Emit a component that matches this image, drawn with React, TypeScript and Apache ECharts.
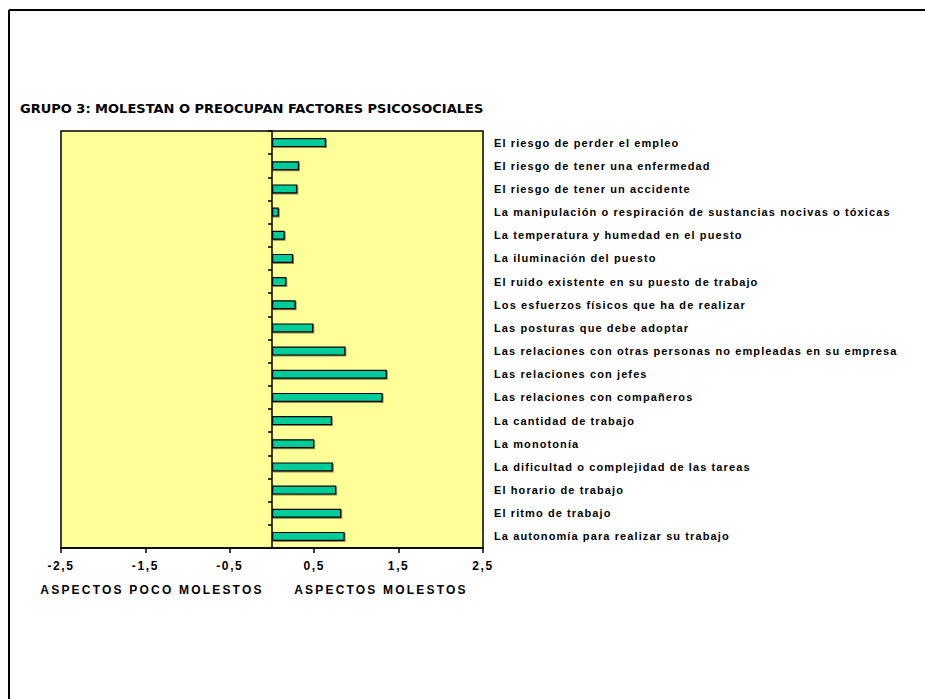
import React, { useEffect, useRef } from "react";
import * as echarts from "echarts";

const categories = [
  "El riesgo de perder el empleo",
  "El riesgo de tener una enfermedad",
  "El riesgo de tener un accidente",
  "La manipulación o respiración de sustancias nocivas o tóxicas",
  "La temperatura y humedad en el puesto",
  "La iluminación del puesto",
  "El ruido existente en su puesto de trabajo",
  "Los esfuerzos físicos que ha de realizar",
  "Las posturas que debe adoptar",
  "Las relaciones con otras personas no empleadas en su empresa",
  "Las relaciones con jefes",
  "Las relaciones con compañeros",
  "La cantidad de trabajo",
  "La monotonía",
  "La dificultad o complejidad de las tareas",
  "El horario de trabajo",
  "El ritmo de trabajo",
  "La autonomía para realizar su trabajo",
];

const values = [
  0.64, 0.32, 0.3, 0.08, 0.15, 0.25, 0.17, 0.28, 0.49,
  0.87, 1.36, 1.31, 0.71, 0.5, 0.72, 0.76, 0.82, 0.86,
];

const tickValues = [-2.5, -1.5, -0.5, 0.5, 1.5, 2.5];

const title = "GRUPO 3: MOLESTAN O PREOCUPAN FACTORES PSICOSOCIALES";
const leftAxisTitle = "ASPECTOS POCO MOLESTOS";
const rightAxisTitle = "ASPECTOS MOLESTOS";

const formatTick = (v: number) => String(v).replace(".", ",");

export default function App() {
  const ref = useRef<HTMLDivElement>(null);
  useEffect(() => {
    if (!ref.current) return;
    const chart = echarts.init(ref.current, null, { renderer: "svg" });
    const font = "'Liberation Sans', Arial, sans-serif";
    chart.setOption({
      animation: false,
      backgroundColor: "#ffffff",
      grid: {
        left: 61,
        top: 131,
        width: 422,
        height: 417,
        show: true,
        backgroundColor: "#FFFF99",
        borderColor: "#000000",
        borderWidth: 1.5,
        containLabel: false,
      },
      xAxis: {
        type: "value",
        min: -2.5,
        max: 2.5,
        interval: 0.5,
        splitLine: { show: false },
        axisLine: { show: true, onZero: false, lineStyle: { color: "#000", width: 1.5 } },
        axisTick: {
          show: true,
          length: 5,
          customValues: tickValues,
          lineStyle: { color: "#000", width: 1.5 },
        },
        axisLabel: {
          customValues: tickValues,
          formatter: formatTick,
          fontFamily: font,
          fontWeight: "bold",
          fontSize: 12,
          color: "#000",
          margin: 12,
        },
      },
      yAxis: [
        {
          type: "category",
          data: categories,
          inverse: true,
          axisLine: { show: true, onZero: true, lineStyle: { color: "#000", width: 1.5 } },
          axisTick: { show: true, length: 4, lineStyle: { color: "#000", width: 1.5 } },
          axisLabel: { show: false },
          splitLine: { show: false },
        },
        {
          type: "category",
          data: categories,
          inverse: true,
          position: "right",
          axisLine: { show: false, onZero: false },
          axisTick: { show: false },
          axisLabel: {
            show: true,
            margin: 11,
            fontFamily: font,
            fontWeight: "bold",
            fontSize: 11,
            color: "#000",
            interval: 0,
          },
          splitLine: { show: false },
        },
      ],
      series: [
        {
          type: "bar",
          data: values,
          yAxisIndex: 0,
          barWidth: 9,
          itemStyle: {
            color: "#00CC99",
            borderColor: "#000000",
            borderWidth: 1.2,
            shadowColor: "rgba(0,0,0,0.45)",
            shadowOffsetX: 1,
            shadowOffsetY: 1,
            shadowBlur: 0,
          },
        },
      ],
      graphic: [
        {
          type: "line",
          shape: { x1: 9, y1: 10, x2: 9, y2: 710 },
          style: { stroke: "#000", lineWidth: 2 },
        },
        {
          type: "line",
          shape: { x1: 9, y1: 10, x2: 940, y2: 10 },
          style: { stroke: "#000", lineWidth: 2 },
        },
        {
          type: "text",
          x: 20,
          y: 108,
          style: {
            text: title,
            fontFamily: "'DejaVu Sans', Verdana, sans-serif",
            fontWeight: "bold",
            fontSize: 13,
            fill: "#000",
            align: "left",
            verticalAlign: "middle",
          },
        },
        {
          type: "text",
          x: 152,
          y: 590,
          style: {
            text: leftAxisTitle,
            fontFamily: font,
            fontWeight: "bold",
            fontSize: 12,
            fill: "#000",
            align: "center",
            verticalAlign: "middle",
          },
        },
        {
          type: "text",
          x: 381,
          y: 590,
          style: {
            text: rightAxisTitle,
            fontFamily: font,
            fontWeight: "bold",
            fontSize: 12,
            fill: "#000",
            align: "center",
            verticalAlign: "middle",
          },
        },
      ],
    });

    // Widen the letter spacing of the texts, as in the reference
    const applySpacing = () => {
      const dom = ref.current;
      if (!dom) return;
      const cats = new Set(categories);
      const ticks = new Set(tickValues.map(formatTick));
      dom.querySelectorAll("text").forEach((el) => {
        const t = (el.textContent || "").trim();
        let s = "";
        if (cats.has(t)) s = "1.1px";
        else if (ticks.has(t)) s = "1.6px";
        else if (t === leftAxisTitle || t === rightAxisTitle) s = "2.2px";
        if (s) el.setAttribute("letter-spacing", s);
      });
    };
    applySpacing();
    chart.on("finished", applySpacing);

    return () => chart.dispose();
  }, []);
  return (
    <div
      ref={ref}
      style={{ position: "absolute", left: 0, top: 0, width: 925, height: 699 }}
    />
  );
}
